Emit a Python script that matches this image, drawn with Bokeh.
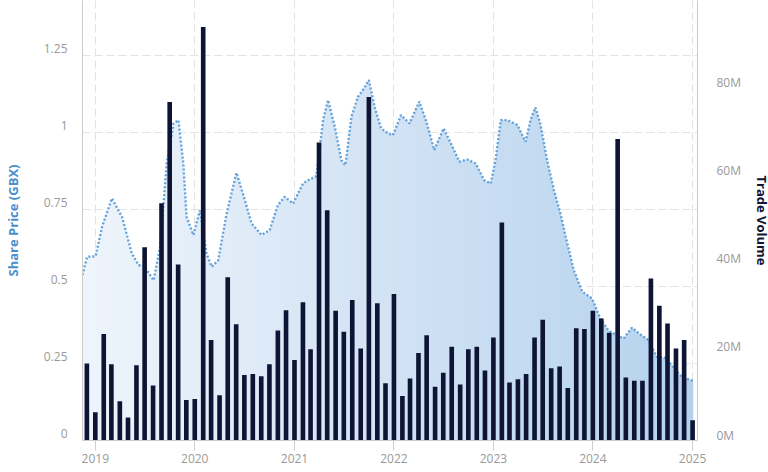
import pandas as pd
from bokeh.plotting import figure
from bokeh.models import Range1d, LinearAxis, FixedTicker, DatetimeTickFormatter
from bokeh.embed import file_html
from bokeh.resources import INLINE

# ---------------- data ----------------
months = pd.date_range("2018-12-01", "2025-01-01", freq="MS")
volume_m = [17.5, 6.4, 24.2, 17.3, 8.9, 5.2, 17.1, 43.9, 12.5, 53.9,
            76.9, 40.0, 9.2, 9.4, 93.9, 22.8, 10.3, 37.1, 26.4, 14.9,
            15.1, 14.6, 17.3, 25.0, 29.6, 18.3, 31.4, 20.7, 67.7, 52.3,
            29.5, 24.7, 31.9, 20.9, 78.0, 31.2, 13.0, 33.3, 10.1, 14.1,
            19.9, 23.9, 12.2, 15.4, 21.3, 12.7, 20.7, 21.3, 15.9, 23.4,
            49.5, 13.2, 13.9, 15.1, 23.4, 27.4, 16.4, 16.8, 11.9, 25.5,
            25.3, 29.5, 27.7, 24.5, 68.5, 14.3, 13.6, 13.6, 36.8, 30.6,
            26.6, 20.9, 22.8, 4.6]

price_dates = ["2018-11-15", "2018-12-02", "2019-01-02", "2019-01-26", "2019-03-03",
               "2019-04-09", "2019-05-15", "2019-06-09", "2019-06-27", "2019-08-03",
               "2019-08-27", "2019-09-20", "2019-10-15", "2019-11-02", "2019-11-20",
               "2019-12-02", "2019-12-27", "2020-01-20", "2020-02-13", "2020-03-03",
               "2020-03-27", "2020-04-27", "2020-06-02", "2020-07-03", "2020-07-27",
               "2020-09-02", "2020-10-02", "2020-11-01", "2020-11-26", "2020-12-27",
               "2021-02-01", "2021-02-20", "2021-03-22", "2021-04-16", "2021-05-04",
               "2021-05-29", "2021-06-22", "2021-07-07", "2021-07-29", "2021-08-22",
               "2021-09-09", "2021-10-01", "2021-10-22", "2021-11-15", "2021-12-10",
               "2021-12-28", "2022-01-27", "2022-02-27", "2022-04-04", "2022-04-28",
               "2022-05-29", "2022-07-02", "2022-07-29", "2022-08-29", "2022-09-28",
               "2022-10-28", "2022-11-28", "2022-12-22", "2023-01-09", "2023-01-28",
               "2023-02-21", "2023-03-30", "2023-04-29", "2023-05-17", "2023-06-04",
               "2023-06-22", "2023-07-17", "2023-08-11", "2023-09-04", "2023-09-29",
               "2023-10-23", "2023-11-23", "2023-12-29", "2024-01-28", "2024-02-28",
               "2024-03-30", "2024-04-23", "2024-05-23", "2024-06-22", "2024-07-23",
               "2024-08-22", "2024-09-21", "2024-10-22", "2024-11-15", "2024-12-09",
               "2025-01-03"]
price_gbx = [0.537, 0.596, 0.598, 0.694, 0.786,
             0.726, 0.607, 0.569, 0.569, 0.520,
             0.629, 0.899, 1.029, 1.040, 0.899,
             0.726, 0.667, 0.748, 0.607, 0.564,
             0.585, 0.737, 0.869, 0.780, 0.705,
             0.667, 0.683, 0.764, 0.791, 0.769,
             0.834, 0.845, 0.858, 1.040, 1.105,
             1.018, 0.910, 0.894, 1.051, 1.116,
             1.137, 1.170, 1.083, 1.013, 0.997,
             0.991, 1.056, 1.029, 1.100, 1.040,
             0.943, 1.013, 0.964, 0.905, 0.912,
             0.899, 0.845, 0.834, 0.910, 1.040,
             1.040, 1.024, 0.970, 1.040, 1.081,
             1.029, 0.910, 0.813, 0.737, 0.640,
             0.553, 0.483, 0.461, 0.396, 0.356,
             0.342, 0.331, 0.366, 0.345, 0.326,
             0.272, 0.268, 0.239, 0.212, 0.201,
             0.194]

year_ticks = ["2019-01-01", "2020-01-01", "2021-01-01", "2022-01-01",
              "2023-01-01", "2024-01-01", "2025-01-01"]
price_ticks = [0, 0.25, 0.5, 0.75, 1, 1.25]
price_labels = ["0", "0.25", "0.5", "0.75", "1", "1.25"]
volume_ticks = [0, 20, 40, 60, 80]
volume_labels = ["0M", "20M", "40M", "60M", "80M"]

# ---------------- layout ----------------
FONT = "Open Sans"
FRAME_W, FRAME_H = 615, 440
PX_PER_GBX = 308.07          # vertical scale of the price axis
PX_PER_MVOL = 4.4025         # vertical scale of the volume axis
P_MAX = FRAME_H / PX_PER_GBX
V_MAX = FRAME_H / PX_PER_MVOL
x_start = pd.Timestamp("2018-11-15")
x_end = pd.Timestamp("2025-01-19")

p = figure(frame_width=FRAME_W, frame_height=FRAME_H, x_axis_type="datetime",
           output_backend="svg", toolbar_location=None,
           x_range=Range1d(x_start, x_end), y_range=Range1d(0, P_MAX),
           min_border_left=0, min_border_right=0, min_border_top=0,
           min_border_bottom=0)
p.extra_y_ranges = {"vol": Range1d(0, V_MAX)}
p.outline_line_color = None
p.background_fill_color = "white"
p.border_fill_color = "white"

# gradient-like area: overlapping opaque segments, colour varies left->right
pdates = pd.to_datetime(pd.Series(price_dates))
left_rgb = (238, 244, 251)
right_rgb = (180, 209, 237)
span = (x_end - x_start).total_seconds()
n = len(price_gbx)
for k in range(n - 1):
    frac = (pdates[k] - x_start).total_seconds() / span
    frac = min(max(frac, 0.0), 1.0)
    c = tuple(int(round(a + (b - a) * frac)) for a, b in zip(left_rgb, right_rgb))
    col = "#%02x%02x%02x" % c
    j = min(k + 3, n)
    p.varea(x=list(pdates[k:j]), y1=[0] * (j - k), y2=price_gbx[k:j],
            fill_color=col, fill_alpha=1.0)

p.line(x=list(pdates), y=price_gbx, line_color="#64a2da", line_width=2.4,
       line_dash="2 2")

p.vbar(x=months, top=volume_m, bottom=0, width=17 * 86400000,
       y_range_name="vol", fill_color="#0e1433", line_color=None)

# x axis
xt = [pd.Timestamp(d).value // 10**6 for d in year_ticks]
p.xaxis.ticker = FixedTicker(ticks=xt)
p.xaxis.formatter = DatetimeTickFormatter(years="%Y", months="%Y", days="%Y",
                                          hours="%Y", minutes="%Y", seconds="%Y")
p.xaxis.axis_line_color = "#cccccc"
p.xaxis.major_tick_line_color = "#cccccc"
p.xaxis.major_tick_out = 10
p.xaxis.major_tick_in = 0
p.xaxis.minor_tick_line_color = None
p.xaxis.major_label_text_color = "#999999"
p.xaxis.major_label_text_font = FONT
p.xaxis.major_label_text_font_size = "12px"
p.xaxis.major_label_standoff = 3

# left axis: labels sit ~7px above their grid lines (as in the reference)
lshift = 7 / PX_PER_GBX
ltick = [t + lshift for t in price_ticks]
p.yaxis.ticker = FixedTicker(ticks=ltick)
p.yaxis.major_label_overrides = dict(zip(ltick, price_labels))
p.ygrid.ticker = FixedTicker(ticks=price_ticks)
p.yaxis.axis_line_color = "#cccccc"
p.yaxis.major_tick_line_color = None
p.yaxis.minor_tick_line_color = None
p.yaxis.major_label_text_color = "#999999"
p.yaxis.major_label_text_font = FONT
p.yaxis.major_label_text_font_size = "12px"
p.yaxis.major_label_standoff = 9
p.yaxis.axis_label = "Share Price (GBX)"
p.yaxis.axis_label_text_color = "#4a8fcc"
p.yaxis.axis_label_text_font = FONT
p.yaxis.axis_label_text_font_size = "13px"
p.yaxis.axis_label_text_font_style = "bold"
p.yaxis.axis_label_standoff = 19

# right axis: labels sit ~5.5px above their tick positions
rshift = 5.5 / PX_PER_MVOL
rtick = [t + rshift for t in volume_ticks]
ra = LinearAxis(y_range_name="vol", ticker=FixedTicker(ticks=rtick),
                major_label_overrides=dict(zip(rtick, volume_labels)))
ra.axis_line_color = "#cccccc"
ra.major_tick_line_color = None
ra.minor_tick_line_color = None
ra.major_label_text_color = "#999999"
ra.major_label_text_font = FONT
ra.major_label_text_font_size = "12px"
ra.major_label_standoff = 13
ra.axis_label = "Trade Volume"
ra.axis_label_text_color = "#0e1433"
ra.axis_label_text_font = FONT
ra.axis_label_text_font_size = "13px"
ra.axis_label_text_font_style = "bold"
ra.axis_label_standoff = 9
p.add_layout(ra, "right")

# grids
p.xgrid.grid_line_color = "#e3e3e3"
p.xgrid.grid_line_dash = "8 4"
p.ygrid.grid_line_color = "#e3e3e3"
p.ygrid.grid_line_dash = "8 4"

open("out.html", "w").write(file_html(p, INLINE))
